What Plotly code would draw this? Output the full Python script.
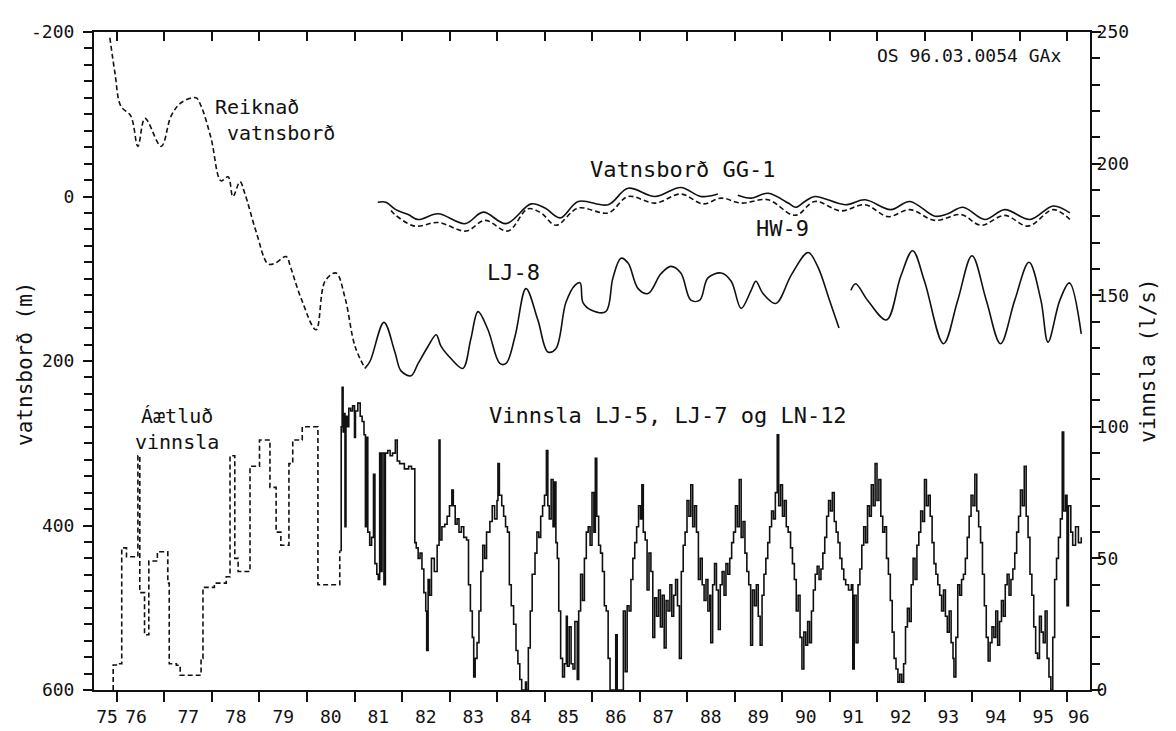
import plotly.graph_objects as go

# ---------------- data ----------------
# Reiknað vatnsborð (computed water level, m) – dashed
calc_year = [1975.85, 1975.96, 1976.08, 1976.29, 1976.44, 1976.59, 1976.93, 1977.14, 1977.35,
             1977.66, 1977.77, 1977.98, 1978.19, 1978.34, 1978.44, 1978.59, 1978.69, 1978.93,
             1979.18, 1979.33, 1979.56, 1979.66, 1979.87, 1980.19, 1980.38, 1980.61, 1980.80,
             1981.01, 1981.22]
calc_level = [-193, -149, -110, -98, -61, -95, -61, -98, -114,
              -120, -110, -71, -19, -24, 0, -18, -4, 43,
              82, 81, 73, 87, 123, 162, 103, 93, 123,
              182, 209]

# LJ-8 water level (m) – solid
lj8_year = [1981.22, 1981.33, 1981.62, 1981.85, 1981.98, 1982.19, 1982.34, 1982.55, 1982.72, 1982.82,
            1983.03, 1983.28, 1983.45, 1983.60, 1983.81, 1984.06, 1984.19, 1984.38, 1984.61,
            1984.86, 1985.07, 1985.24, 1985.45, 1985.64, 1985.75, 1985.81, 1985.98, 1986.29,
            1986.44, 1986.61, 1986.76, 1986.97, 1987.18, 1987.45, 1987.66, 1987.87, 1988.08,
            1988.27, 1988.44, 1988.72, 1988.93, 1989.14, 1989.35, 1989.45, 1989.60, 1989.87,
            1990.20, 1990.55, 1990.75, 1991.00, 1991.20, 1991.32, 1991.45, 1991.55, 1991.80,
            1992.20, 1992.50, 1992.75, 1993.00, 1993.40, 1993.70, 1994.00, 1994.30, 1994.60,
            1994.90, 1995.20, 1995.45, 1995.60, 1995.85, 1996.05, 1996.30]
lj8_level = [209, 200, 153, 189, 212, 218, 203, 182, 168, 182,
             197, 209, 173, 140, 162, 203, 203, 170, 112,
             150, 189, 185, 129, 108, 105, 129, 138, 140,
             99, 75, 81, 112, 118, 94, 85, 93, 126,
             126, 99, 93, 103, 136, 114, 103, 118, 130,
             95, 68, 85, 126, 160, None, 114, 106, 126,
             150, 97, 66, 103, 179, 126, 72, 126, 179,
             126, 80, 126, 177, 126, 105, 167]

# Vatnsborð GG-1 (m) – solid
gg1_year = [1981.49, 1981.66, 1981.87, 1982.13, 1982.34, 1982.76, 1983.33, 1983.71, 1984.19,
            1984.72, 1985.01, 1985.33, 1985.71, 1986.34, 1986.76, 1987.33, 1987.87, 1988.29,
            1988.65, 1988.85, 1989.07, 1989.35, 1989.71, 1990.13, 1990.29, 1990.48, 1990.69,
            1991.33, 1991.75, 1992.29, 1992.69, 1993.22, 1993.49, 1993.81, 1994.27, 1994.69,
            1995.22, 1995.71, 1996.06]
gg1_level = [7, 7, 16, 22, 28, 21, 33, 19, 33,
             9, 14, 26, 6, 10, -10, 0, -11, 0,
             -3, None, -1.5, 2, -4, 8, 13, 6, 0,
             10, 4, 16, 6, 24, 21, 13, 28, 16,
             28, 11.5, 20]

# HW-9 (m) – dashed
hw9_year = [1981.77, 1981.85, 1982.27, 1982.76, 1983.35, 1983.75, 1984.23, 1984.65, 1984.93,
            1985.24, 1985.71, 1986.34, 1986.76, 1987.33, 1987.87, 1988.34, 1988.72, 1989.14,
            1989.71, 1990.19, 1990.34, 1990.69, 1991.24, 1991.75, 1992.23, 1992.69, 1993.22,
            1993.77, 1994.19, 1994.69, 1995.18, 1995.71, 1996.06]
hw9_level = [17, 22, 36, 31.6, 42, 29, 42, 15, 20,
             35, 14, 20, 0, 8, -3, 9, 2, 8,
             4, 22, 22, 6, 17.5, 10, 24.5, 16, 29,
             22, 35, 23, 36, 16, 28]

# Áætluð vinnsla (estimated production, l/s) – dashed steps
est_year = [1975.92, 1975.92, 1976.02, 1976.10, 1976.20, 1976.40, 1976.44, 1976.48, 1976.55,
            1976.58, 1976.67, 1976.85, 1976.99, 1977.07, 1977.10, 1977.25, 1977.33, 1977.73,
            1977.77, 1977.81, 1978.05, 1978.30, 1978.38, 1978.48, 1978.55, 1978.80, 1979.00,
            1979.22, 1979.35, 1979.45, 1979.62, 1979.70, 1979.90, 1980.23, 1980.69]
est_flow = [0, 9.5, 10, 54, 50.6, 50.6, 89, 37, 37,
            21, 49, 52.5, 52.5, 40.6, 10, 9.4, 5.6, 5.6,
            12, 39, 40.6, 43, 89, 50, 45, 85, 95,
            77, 60, 55, 86, 95, 100, 40, 53]

# Vinnsla LJ-5, LJ-7 og LN-12 (measured production, l/s) – solid steps
prod_year = [
    1980.70, 1980.72, 1980.74, 1980.76, 1980.78, 1980.80, 1980.82, 1980.85, 1980.88, 1980.92,
    1980.96, 1981.00, 1981.02, 1981.07, 1981.12, 1981.16, 1981.20, 1981.23, 1981.26, 1981.28,
    1981.32, 1981.36, 1981.40, 1981.43, 1981.47, 1981.50, 1981.53, 1981.56, 1981.58, 1981.62,
    1981.65, 1981.70, 1981.75, 1981.80, 1981.86, 1981.90, 1981.95, 1982.00, 1982.05, 1982.10,
    1982.14, 1982.20, 1982.27, 1982.30, 1982.34, 1982.38, 1982.42, 1982.46, 1982.50, 1982.52,
    1982.55, 1982.58, 1982.62, 1982.68, 1982.74, 1982.78, 1982.80, 1982.84, 1982.90, 1982.95,
    1983.00, 1983.05, 1983.08, 1983.12, 1983.16, 1983.20, 1983.25, 1983.30, 1983.36, 1983.40,
    1983.44, 1983.48, 1983.51, 1983.54, 1983.58, 1983.62, 1983.66, 1983.70, 1983.74, 1983.78,
    1983.85, 1983.90, 1983.95, 1984.00, 1984.02, 1984.05, 1984.10, 1984.14, 1984.18, 1984.22,
    1984.26, 1984.30, 1984.35, 1984.40, 1984.44, 1984.48, 1984.52, 1984.60, 1984.62, 1984.66,
    1984.70, 1984.74, 1984.80, 1984.84, 1984.88, 1984.92, 1984.96, 1985.00, 1985.04, 1985.07,
    1985.10, 1985.14, 1985.18, 1985.21, 1985.24, 1985.27, 1985.30, 1985.34, 1985.38, 1985.42,
    1985.46, 1985.48, 1985.52, 1985.56, 1985.60, 1985.64, 1985.69, 1985.72, 1985.76, 1985.80,
    1985.84, 1985.88, 1985.92, 1985.96, 1986.00, 1986.04, 1986.07, 1986.10, 1986.14, 1986.18,
    1986.22, 1986.26, 1986.30, 1986.34, 1986.38, 1986.50, 1986.53, 1986.66, 1986.70, 1986.74,
    1986.78, 1986.82, 1986.86, 1986.90, 1986.94, 1986.98, 1987.02, 1987.05, 1987.08, 1987.12,
    1987.16, 1987.20, 1987.24, 1987.28, 1987.32, 1987.36, 1987.40, 1987.44, 1987.48, 1987.52,
    1987.56, 1987.60, 1987.64, 1987.68, 1987.72, 1987.76, 1987.80, 1987.84, 1987.88, 1987.92,
    1987.96, 1988.00, 1988.04, 1988.08, 1988.12, 1988.16, 1988.20, 1988.24, 1988.28, 1988.32,
    1988.36, 1988.40, 1988.44, 1988.48, 1988.50, 1988.54, 1988.58, 1988.62, 1988.66, 1988.70,
    1988.74, 1988.78, 1988.82, 1988.86, 1988.90, 1988.94, 1988.98, 1989.02, 1989.06, 1989.10,
    1989.14, 1989.18, 1989.22, 1989.26, 1989.30, 1989.34, 1989.38, 1989.42, 1989.46, 1989.50,
    1989.54, 1989.58, 1989.62, 1989.66, 1989.70, 1989.74, 1989.78, 1989.82, 1989.86, 1989.90,
    1989.93, 1989.97, 1990.01, 1990.05, 1990.09, 1990.13, 1990.18, 1990.22, 1990.26, 1990.30,
    1990.34, 1990.38, 1990.42, 1990.46, 1990.50, 1990.54, 1990.58, 1990.62, 1990.66, 1990.70,
    1990.74, 1990.78, 1990.82, 1990.86, 1990.90, 1990.94, 1990.98, 1991.02, 1991.06, 1991.10,
    1991.14, 1991.18, 1991.22, 1991.26, 1991.30, 1991.34, 1991.40, 1991.46, 1991.49, 1991.52,
    1991.56, 1991.60, 1991.64, 1991.68, 1991.72, 1991.76, 1991.80, 1991.84, 1991.88, 1991.92,
    1991.96, 1992.00, 1992.04, 1992.08, 1992.12, 1992.16, 1992.20, 1992.24, 1992.28, 1992.32,
    1992.36, 1992.40, 1992.44, 1992.48, 1992.52, 1992.56, 1992.60, 1992.64, 1992.68, 1992.72,
    1992.76, 1992.80, 1992.84, 1992.88, 1992.92, 1992.96, 1993.00, 1993.04, 1993.08, 1993.12,
    1993.16, 1993.20, 1993.24, 1993.28, 1993.32, 1993.36, 1993.40, 1993.44, 1993.48, 1993.52,
    1993.56, 1993.60, 1993.62, 1993.66, 1993.70, 1993.74, 1993.78, 1993.82, 1993.86, 1993.90,
    1993.94, 1993.98, 1994.02, 1994.06, 1994.10, 1994.14, 1994.18, 1994.22, 1994.26, 1994.30,
    1994.34, 1994.38, 1994.42, 1994.46, 1994.50, 1994.54, 1994.58, 1994.62, 1994.66, 1994.70,
    1994.74, 1994.78, 1994.82, 1994.86, 1994.90, 1994.94, 1994.98, 1995.02, 1995.06, 1995.10,
    1995.14, 1995.18, 1995.22, 1995.26, 1995.30, 1995.34, 1995.38, 1995.42, 1995.46, 1995.50,
    1995.54, 1995.58, 1995.62, 1995.66, 1995.70, 1995.74, 1995.78, 1995.82, 1995.86, 1995.90,
    1995.93, 1995.97, 1996.00, 1996.03, 1996.08, 1996.12, 1996.18, 1996.24, 1996.30]
prod_flow = [
    53, 100, 115, 98, 105, 62, 104, 100, 107, 106,
    108, 96, 106, 109, 104, 102, 97, 62, 96, 60,
    55, 58, 82, 48, 44, 42, 90, 45, 90, 40,
    90, 91, 89, 90, 95, 87, 86, 86, 84, 84,
    85, 84, 56, 54, 50, 52, 46, 37, 30, 15,
    42, 36, 50, 45, 55, 95, 57, 62, 63, 66,
    70, 76, 70, 63, 65, 60, 62, 58, 57, 40,
    30, 20, 5, 12, 18, 30, 45, 55, 50, 60,
    64, 70, 65, 72, 86, 74, 70, 66, 62, 60,
    40, 32, 25, 15, 10, 4, 0, 3, 0, 16,
    30, 44, 52, 60, 58, 66, 70, 74, 91, 70,
    65, 80, 62, 79, 56, 50, 30, 12, 5, 10,
    28, 9, 24, 10, 8, 26, 4, 30, 44, 34,
    50, 60, 62, 55, 75, 60, 88, 66, 55, 52,
    45, 32, 30, 12, 0, 21, 0, 30, 7, 32,
    30, 42, 50, 56, 62, 70, 65, 78, 60, 57,
    38, 52, 45, 20, 35, 28, 38, 24, 36, 16,
    34, 30, 40, 28, 36, 42, 32, 12, 45, 55,
    60, 72, 66, 78, 62, 70, 60, 42, 50, 40,
    34, 42, 30, 36, 18, 40, 48, 38, 23, 40,
    45, 36, 48, 44, 50, 56, 60, 70, 62, 80,
    58, 64, 52, 45, 40, 17, 38, 32, 40, 28,
    17, 36, 44, 50, 56, 62, 68, 65, 75, 97,
    70, 78, 66, 72, 62, 60, 54, 48, 42, 30,
    36, 20, 8, 22, 17, 26, 18, 30, 38, 44,
    47, 42, 46, 52, 58, 66, 72, 68, 75, 64,
    60, 56, 50, 46, 42, 40, 38, 40, 8, 36,
    18, 40, 46, 55, 62, 56, 70, 66, 78, 70,
    86, 72, 80, 66, 60, 62, 50, 44, 34, 22,
    12, 8, 3, 6, 3, 10, 24, 31, 26, 40,
    50, 42, 55, 60, 68, 64, 80, 70, 74, 66,
    56, 48, 44, 40, 36, 30, 38, 28, 22, 30,
    18, 12, 5, 20, 40, 36, 42, 44, 50, 58,
    66, 74, 70, 82, 68, 62, 56, 44, 32, 20,
    11, 18, 24, 20, 30, 17, 26, 34, 28, 40,
    44, 36, 42, 46, 52, 60, 66, 76, 70, 85,
    66, 58, 44, 36, 24, 14, 12, 28, 22, 18,
    30, 12, 5, 0, 20, 42, 50, 58, 65, 98,
    68, 74, 32, 70, 60, 55, 62, 56, 58]

year_ticks = list(range(1976, 1997))
year_label_pos = [1975.79, 1976.40] + [y + 0.5 for y in range(1977, 1996)] + [1996.25]
year_labels = ["75", "76"] + [str(y)[2:] for y in range(1977, 1996)] + ["96"]
left_ticks = [-200, 0, 200, 400, 600]
right_ticks = [0, 50, 100, 150, 200, 250]

X_RANGE = [1975.516, 1996.484]
FONT = "DejaVu Sans Mono"
INK = "#111111"

fig = go.Figure()

def line(x, y, dash=None, yaxis="y", width=1.6, shape="linear"):
    fig.add_trace(go.Scatter(x=x, y=y, mode="lines", yaxis=yaxis, xaxis="x",
                             line=dict(color=INK, width=width, dash=dash, shape=shape),
                             connectgaps=False, showlegend=False, hoverinfo="skip"))

line(calc_year, calc_level, dash="5px,3px", shape="spline")
line(lj8_year, lj8_level, shape="spline")
line(gg1_year, gg1_level, shape="spline")
line(hw9_year, hw9_level, dash="5px,3px", shape="spline")
line(est_year, est_flow, dash="5px,3px", yaxis="y2", shape="hv")
line(prod_year, prod_flow, yaxis="y2", width=1.6, shape="hv")
# empty trace so the top tick axis is drawn
fig.add_trace(go.Scatter(x=[], y=[], xaxis="x2", yaxis="y", showlegend=False))

tickfont = dict(family=FONT, size=18, color=INK)

fig.update_layout(
    width=1176, height=731,
    margin=dict(l=86, r=94, t=24, b=30),
    paper_bgcolor="white", plot_bgcolor="white",
    xaxis=dict(range=X_RANGE, tickvals=year_label_pos, ticktext=year_labels,
               ticks="outside", ticklen=9, tickcolor="rgba(0,0,0,0)",
               minor=dict(tickvals=year_ticks, ticks="outside", ticklen=10, tickwidth=1.5, tickcolor=INK),
               showline=True, linecolor=INK, linewidth=2, showgrid=False, zeroline=False,
               tickfont=tickfont),
    xaxis2=dict(range=X_RANGE, overlaying="x", side="top", anchor="y",
                tickvals=year_ticks, ticktext=[""] * len(year_ticks),
                ticks="inside", ticklen=9, tickwidth=1.5, tickcolor=INK,
                showline=True, linecolor=INK, linewidth=2, showgrid=False, zeroline=False),
    yaxis=dict(range=[600, -200], tickvals=left_ticks, ticktext=[str(v) for v in left_ticks],
               ticks="outside", ticklen=9, tickwidth=1.5, tickcolor=INK, ticklabelstandoff=5,
               minor=dict(dtick=20, ticks="outside", ticklen=8, tickwidth=1.5, tickcolor=INK),
               showline=True, linecolor=INK, linewidth=2, showgrid=False, zeroline=False,
               tickfont=tickfont),
    yaxis2=dict(range=[0, 250], overlaying="y", side="right", tickvals=right_ticks,
                ticktext=[str(v) for v in right_ticks],
                ticks="outside", ticklen=9, tickwidth=1.5, tickcolor=INK, ticklabelstandoff=-8,
                minor=dict(dtick=10, ticks="outside", ticklen=8, tickwidth=1.5, tickcolor=INK),
                showline=True, linecolor=INK, linewidth=2, showgrid=False, zeroline=False,
                tickfont=tickfont),
)

def label(text, x, y, size=22, xanchor="left", align="left"):
    fig.add_annotation(text=text, x=x, y=y, xref="x", yref="y", showarrow=False,
                       xanchor=xanchor, yanchor="middle", align=align,
                       font=dict(family=FONT, size=size, color=INK))

label("Reiknað<br>\u00a0vatnsborð", 1978.02, -93, size=20)
label("Vatnsborð GG-1", 1985.92, -33)
label("HW-9", 1989.42, 39)
label("LJ-8", 1983.74, 93)
label("Vinnsla LJ-5, LJ-7 og LN-12", 1983.78, 266)
label("Áætluð<br>vinnsla", 1976.33, 283, size=20, align="center")
label("OS 96.03.0054 GAx", 1995.92, -171, size=18, xanchor="right")

fig.add_annotation(text="vatnsborð (m)", xref="paper", yref="paper", x=-0.07, y=0.496,
                   textangle=-90, showarrow=False, xanchor="center", yanchor="middle",
                   font=dict(family=FONT, size=21, color=INK))
fig.add_annotation(text="vinnsla (l/s)", xref="paper", yref="paper", x=1.058, y=0.50,
                   textangle=-90, showarrow=False, xanchor="center", yanchor="middle",
                   font=dict(family=FONT, size=21, color=INK))

fig.write_html("out.html")
